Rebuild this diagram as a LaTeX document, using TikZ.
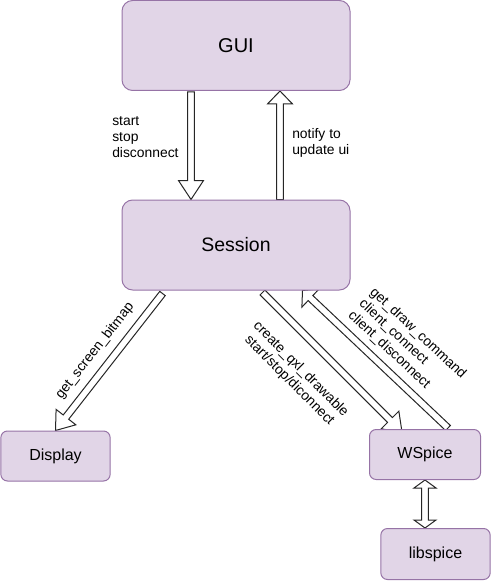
\documentclass[tikz,border=0pt]{standalone}
\usepackage{fontspec}
\setmainfont{Liberation Sans}
\usetikzlibrary{calc,backgrounds}

\definecolor{boxfill}{HTML}{E1D5E7}
\definecolor{boxline}{HTML}{9673A6}

\tikzset{
	box/.style={draw=boxline, fill=boxfill, line width=0.75pt, rounded corners=5pt, inner sep=0pt},
	bigbox/.style={box, minimum width=171pt, minimum height=67.5pt, rounded corners=8pt},
	smallbox/.style={box, minimum width=82pt, minimum height=37.5pt, font=\fontsize{12}{14}\selectfont},
	flex/.style={draw=black!85, line width=0.75pt, fill=white, line join=miter},
	lbl/.style={font=\fontsize{10.4}{12}\selectfont, inner sep=0pt}
}

% hollow arrow: [head length]{from}{to}
\newcommand{\flexarrow}[3][12pt]{%
	\coordinate (fa-s) at (#2);
	\coordinate (fa-e) at (#3);
	\coordinate (fa-b) at ($(fa-e)!#1!(fa-s)$);
	\draw[flex] ($(fa-s)!2.6pt!90:(fa-e)$) -- ($(fa-b)!2.6pt!90:(fa-e)$) -- ($(fa-b)!9.4pt!90:(fa-e)$)
		-- (fa-e) -- ($(fa-b)!9.4pt!-90:(fa-e)$) -- ($(fa-b)!2.6pt!-90:(fa-e)$) -- ($(fa-s)!2.6pt!-90:(fa-e)$) -- cycle;
}
% hollow arrow, heads at both ends
\newcommand{\flexarrowboth}[2]{%
	\coordinate (fa-s) at (#1);
	\coordinate (fa-e) at (#2);
	\coordinate (fa-a) at ($(fa-s)!6pt!(fa-e)$);
	\coordinate (fa-b) at ($(fa-e)!6pt!(fa-s)$);
	\draw[flex] (fa-s) -- ($(fa-a)!8.25pt!90:(fa-e)$) -- ($(fa-a)!2.6pt!90:(fa-e)$) -- ($(fa-b)!2.6pt!90:(fa-e)$)
		-- ($(fa-b)!8.25pt!90:(fa-e)$) -- (fa-e) -- ($(fa-b)!8.25pt!-90:(fa-e)$) -- ($(fa-b)!2.6pt!-90:(fa-e)$)
		-- ($(fa-a)!2.6pt!-90:(fa-e)$) -- ($(fa-a)!8.25pt!-90:(fa-e)$) -- cycle;
}

\begin{document}
\begin{tikzpicture}[x=0.75pt, y=-0.75pt]
	\useasboundingbox (0,0) rectangle (491,581);

	% Boxes
	\node[bigbox, font=\fontsize{15}{18}\selectfont] (gui) at (236,45.5) {GUI};
	\node[bigbox, font=\fontsize{14.6}{17}\selectfont] (session) at (236,245) {Session};
	\node[smallbox] (display) at (55.5,456) {Display};
	\node[smallbox, minimum width=83.25pt] (wspice) at (425,454.5) {WSpice};
	\node[smallbox, minimum height=38.25pt] (libspice) at (435.5,554) {libspice};

	% Calls
	\begin{pgfonlayer}{background}
		\flexarrow[14.25pt]{$(gui.south)+(-45,1)$}{$(session.north)+(-45,0)$}
		\flexarrow[9.75pt]{$(session.north)+(44,0)$}{$(gui.south)+(44,0)$}
		\flexarrow[12.75pt]{$(session.south west)+(41,3)$}{display.north}
		\flexarrow[12.75pt]{$(session.south east)+(-88,2)$}{$(wspice.north west)+(33,3)$}
		\flexarrow[8.25pt]{$(wspice.north east)+(-33,-1)$}{$(session.south east)+(-48,0)$}
		\flexarrowboth{wspice.south}{wspice.south |- libspice.north}
	\end{pgfonlayer}

	% Labels
	\node[lbl, anchor=west, align=left] (cmdlbl) at (112,137) {start\\stop\\disconnect};
	\node[lbl, anchor=west, align=left] (notifylbl) at (292,143) {notify to\\update ui};
	\node[lbl, rotate=52] (bitmaplbl) at (95,351) {get\_screen\_bitmap};
	\node[lbl, rotate=-45, align=center] (qxllbl) at (295,375) {create\_qxl\_drawable\\start/stop/diconnect};
	\node[lbl, rotate=-43, align=left] (drawlbl) at (407,345) {get\_draw\_command\\client\_connect\\client\_disconnect};
\end{tikzpicture}
\end{document}
